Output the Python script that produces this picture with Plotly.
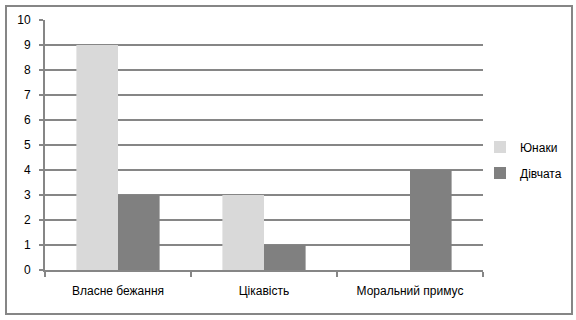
import plotly.graph_objects as go

categories = ["Власне бежання", "Цікавість", "Моральний примус"]
series_names = ["Юнаки", "Дівчата"]
yunaky = [9, 3, 0]
divchata = [3, 1, 4]
y_ticks = [0, 1, 2, 3, 4, 5, 6, 7, 8, 9, 10]

W, H = 576, 320
L, R, T, B = 45, 93, 20, 50
pw, ph = W - L - R, H - T - B

def px_x(x):
    return (x - L) / pw

def px_y(y):
    return (H - B - y) / ph

fig = go.Figure()
fig.add_trace(go.Bar(x=categories, y=yunaky, name=series_names[0],
                     marker=dict(color="#D9D9D9", line=dict(width=0)),
                     legendgroup="a"))
fig.add_trace(go.Bar(x=categories, y=divchata, name=series_names[1],
                     marker=dict(color="#808080", line=dict(width=0)),
                     legendgroup="b"))

font = dict(family="Liberation Sans", size=12, color="#000000")

fig.update_layout(
    width=W, height=H,
    margin=dict(l=L, r=R, t=T, b=B, pad=0, autoexpand=False),
    paper_bgcolor="white", plot_bgcolor="white",
    barmode="group", bargap=0.43, bargroupgap=0,
    font=font,
    showlegend=True,
    legend=dict(x=px_x(480), y=0.44, xanchor="left", yanchor="middle",
                traceorder="grouped", tracegroupgap=7,
                font=font, itemwidth=30, bgcolor="rgba(0,0,0,0)"),
    xaxis=dict(showline=True, linecolor="#868686", linewidth=2,
               ticks="outside", tickson="boundaries", ticklen=5,
               tickcolor="#868686", tickwidth=2, showgrid=False,
               ticklabelstandoff=9, tickfont=font),
    yaxis=dict(range=[0, 10], tickvals=y_ticks, showline=True,
               linecolor="#868686", linewidth=2, ticks="outside",
               ticklen=4, tickcolor="#868686", tickwidth=2,
               showgrid=True, gridcolor="#868686", gridwidth=2,
               zeroline=False, ticklabelstandoff=6, tickfont=font),
    shapes=[dict(type="rect", xref="paper", yref="paper",
                 x0=px_x(6), x1=px_x(572), y0=px_y(314), y1=px_y(6),
                 line=dict(color="#868686", width=2), fillcolor="rgba(0,0,0,0)",
                 layer="below")],
)

fig.write_html("out.html")
